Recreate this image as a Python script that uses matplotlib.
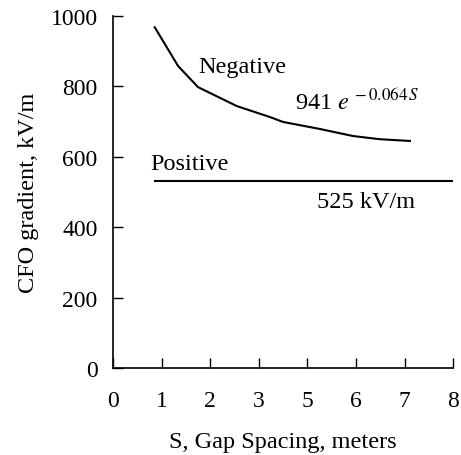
import matplotlib
matplotlib.use("Agg")
import matplotlib.pyplot as plt

# Data (x in evenly spaced axis positions; printed tick labels skip "4")
x_ticks = [0, 1, 2, 3, 4, 5, 6, 7]
x_tick_labels = ["0", "1", "2", "3", "5", "6", "7", "8"]
y_ticks = [0, 200, 400, 600, 800, 1000]

neg_x = [0.86, 1.34, 1.75, 2.55, 3.23, 3.50, 4.26, 4.94, 5.49, 6.11]
neg_y = [968, 858, 798, 744, 713, 699, 679, 659, 650, 645]

pos_x = [0.86, 7.0]
pos_y = [530, 530]

plt.rcParams['font.family'] = ['Liberation Serif', 'DejaVu Serif']
plt.rcParams['mathtext.fontset'] = 'stix'

fig = plt.figure(figsize=(4.61, 4.56), dpi=100)
ax = fig.add_axes([0.245, 0.1908, 0.983 - 0.245, 0.9627 - 0.1908])

ax.plot(neg_x, neg_y, color='black', lw=1.5)
ax.plot(pos_x, pos_y, color='black', lw=1.5)

ax.set_xlim(0, 7)
ax.set_ylim(0, 1000)
ax.set_xticks(x_ticks)
ax.set_xticklabels(x_tick_labels)
ax.set_yticks(y_ticks)

for s in ['top', 'right']:
    ax.spines[s].set_visible(False)
for s in ['left', 'bottom']:
    ax.spines[s].set_linewidth(1.2)
    ax.spines[s].set_clip_on(False)

ax.tick_params(axis='both', direction='in', length=7, width=1.0, labelsize=17)
ax.tick_params(axis='x', pad=16)
ax.tick_params(axis='y', pad=11)

ax.set_ylabel('CFO gradient, kV/m', fontsize=17.5, labelpad=8)
ax.set_xlabel('S, Gap Spacing, meters', fontsize=17.5, labelpad=14)

fs = 17.5
ax.text(1.75, 841, 'Negative', fontsize=fs, ha='left', va='baseline')
ax.text(3.74, 736, r'941 $e^{\,-0.064\,S}$', fontsize=fs, ha='left', va='baseline')
ax.text(0.76, 565, 'Positive', fontsize=fs, ha='left', va='baseline')
ax.text(4.20, 457, '525 kV/m', fontsize=fs, ha='left', va='baseline')

fig.savefig('out.png', dpi=100)
